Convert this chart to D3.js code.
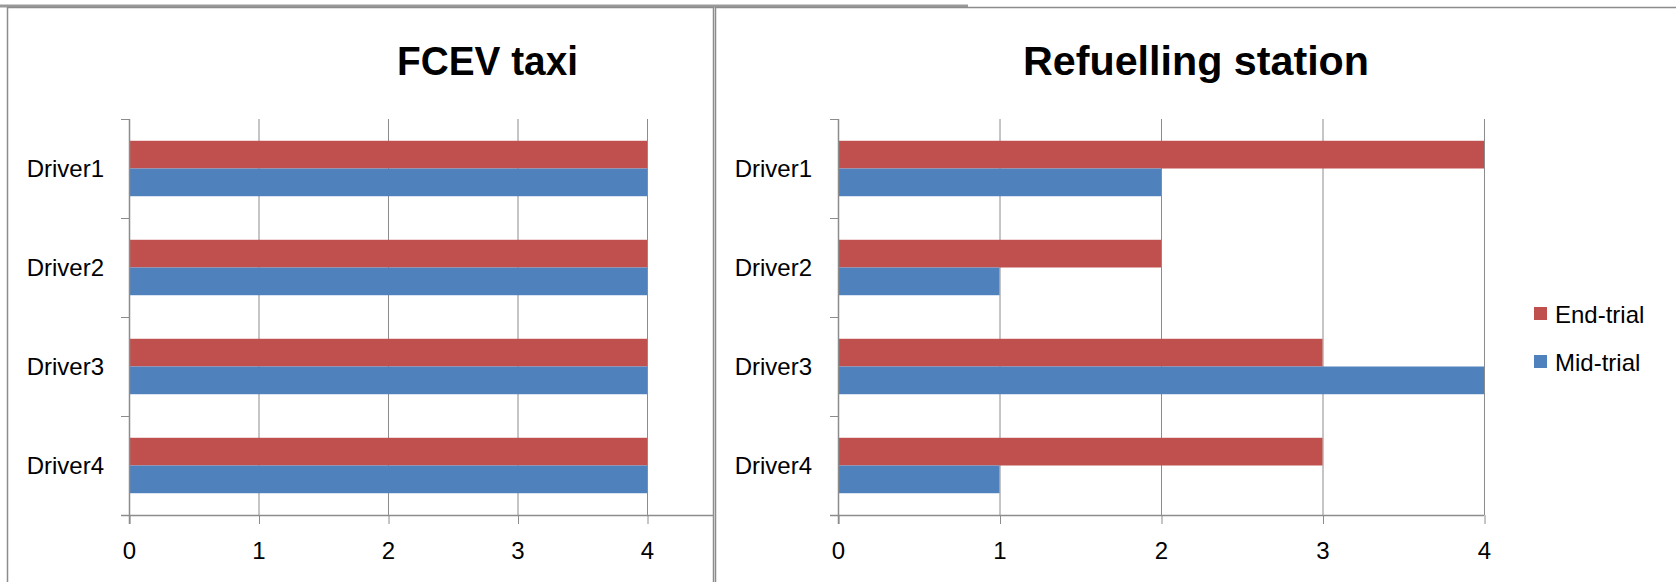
<!DOCTYPE html>
<html>
<head>
<meta charset="utf-8">
<script src="https://cdn.jsdelivr.net/npm/d3@7"></script>
<style>
  html, body { margin: 0; padding: 0; background: #fff; }
  svg { display: block; font-family: "Liberation Sans", Arial, sans-serif; }
</style>
</head>
<body>
<svg id="chart" width="1676" height="582"></svg>
<script>
// Survey answers per driver, two rounds
const drivers = ["Driver1", "Driver2", "Driver3", "Driver4"];
const seriesNames = ["End-trial", "Mid-trial"];
const taxiEnd = [4, 4, 4, 4];
const taxiMid = [4, 4, 4, 4];
const stationEnd = [4, 2, 3, 3];
const stationMid = [2, 1, 4, 1];
const xTicks = [0, 1, 2, 3, 4];

const colors = { "End-trial": "#C0504D", "Mid-trial": "#4F81BD" };
const gridColor = "#8c8c8c";

const svg = d3.select("#chart");

// panel frames
const frame = svg.append("g").attr("fill", "none");
frame.append("line").attr("x1", 0).attr("x2", 968).attr("y1", 6).attr("y2", 6)
  .attr("stroke", "#9a9a9a").attr("stroke-width", 3);
frame.append("rect").attr("x", 7.5).attr("y", 7.5).attr("width", 706).attr("height", 600)
  .attr("stroke", "#8c8c8c").attr("stroke-width", 1.5);
frame.append("rect").attr("x", 715.5).attr("y", 7.5).attr("width", 1000).attr("height", 600)
  .attr("stroke", "#8c8c8c").attr("stroke-width", 1.5);

function drawPanel(opts) {
  const g = svg.append("g");
  const x = d3.scaleLinear().domain([0, 4]).range([opts.x0, opts.x1]);
  const y = d3.scaleBand().domain(drivers).range([opts.top, opts.bottom])
    .paddingInner(0.44).paddingOuter(0.22);
  const sub = d3.scaleBand().domain(seriesNames).range([0, y.bandwidth()]);

  // title
  g.append("text").attr("x", opts.titleX).attr("y", 75)
    .attr("text-anchor", "middle").attr("font-weight", "bold")
    .attr("font-size", 41).attr("fill", "#000")
    .attr("textLength", opts.titleW).attr("lengthAdjust", "spacingAndGlyphs")
    .text(opts.title);

  // vertical gridlines
  g.append("g").selectAll("line").data(xTicks.slice(1)).join("line")
    .attr("x1", d => x(d) + 0.5).attr("x2", d => x(d) + 0.5)
    .attr("y1", opts.top).attr("y2", opts.bottom)
    .attr("stroke", gridColor).attr("stroke-width", 1);

  // bars
  const rows = drivers.map((d, i) => ({ driver: d, values: [
    { key: "End-trial", value: opts.end[i] },
    { key: "Mid-trial", value: opts.mid[i] }
  ]}));
  g.append("g").selectAll("g").data(rows).join("g")
    .attr("transform", d => `translate(0,${y(d.driver)})`)
    .selectAll("rect").data(d => d.values).join("rect")
    .attr("x", x(0)).attr("y", d => sub(d.key))
    .attr("width", d => x(d.value) - x(0)).attr("height", sub.bandwidth())
    .attr("fill", d => colors[d.key]);

  // x axis
  const xAxis = g.append("g").attr("transform", `translate(0,${opts.bottom})`)
    .call(d3.axisBottom(x).tickValues(xTicks).tickSize(9).tickPadding(18).tickFormat(d3.format("d")));
  xAxis.select(".domain").remove();
  xAxis.selectAll(".tick line").attr("stroke", gridColor).attr("x1", 0.5).attr("x2", 0.5);
  xAxis.selectAll(".tick text").attr("font-size", 24).attr("fill", "#000")
    .attr("font-family", "Liberation Sans, Arial, sans-serif");
  g.append("line").attr("x1", opts.x0 - 8).attr("x2", opts.axisEnd)
    .attr("y1", opts.bottom + 0.5).attr("y2", opts.bottom + 0.5)
    .attr("stroke", gridColor).attr("stroke-width", 1.5);

  // y axis with ticks on category boundaries
  const step = y.step();
  const bounds = d3.range(drivers.length + 1).map(i => opts.top + i * step);
  g.append("line").attr("x1", opts.x0 + 0.5).attr("x2", opts.x0 + 0.5)
    .attr("y1", opts.top).attr("y2", opts.bottom + 9)
    .attr("stroke", gridColor).attr("stroke-width", 1.5);
  g.append("g").selectAll("line").data(bounds).join("line")
    .attr("x1", opts.x0 - 8).attr("x2", opts.x0)
    .attr("y1", d => Math.round(d) + 0.5).attr("y2", d => Math.round(d) + 0.5)
    .attr("stroke", gridColor).attr("stroke-width", 1);
  g.append("g").selectAll("text").data(drivers).join("text")
    .attr("x", opts.labelRight).attr("y", d => y(d) + y.bandwidth() / 2)
    .attr("text-anchor", "end").attr("dominant-baseline", "central")
    .attr("font-size", 24).attr("fill", "#000")
    .text(d => d);
}

drawPanel({
  title: "FCEV taxi", titleX: 487.5, titleW: 181,
  x0: 129, x1: 647, axisEnd: 714, top: 119, bottom: 515, labelRight: 104,
  end: taxiEnd, mid: taxiMid
});
drawPanel({
  title: "Refuelling station", titleX: 1196, titleW: 346,
  x0: 838, x1: 1484, axisEnd: 1484, top: 119, bottom: 515, labelRight: 812,
  end: stationEnd, mid: stationMid
});

// legend
const legend = svg.append("g").attr("transform", "translate(1534,307)");
legend.selectAll("g").data(seriesNames).join("g")
  .attr("transform", (d, i) => `translate(0,${i * 48})`)
  .each(function (d) {
    const row = d3.select(this);
    row.append("rect").attr("width", 13).attr("height", 13).attr("fill", colors[d]);
    row.append("text").attr("x", 21).attr("y", 7).attr("dominant-baseline", "central")
      .attr("font-size", 24).attr("fill", "#000").text(d);
  });
</script>
</body>
</html>
